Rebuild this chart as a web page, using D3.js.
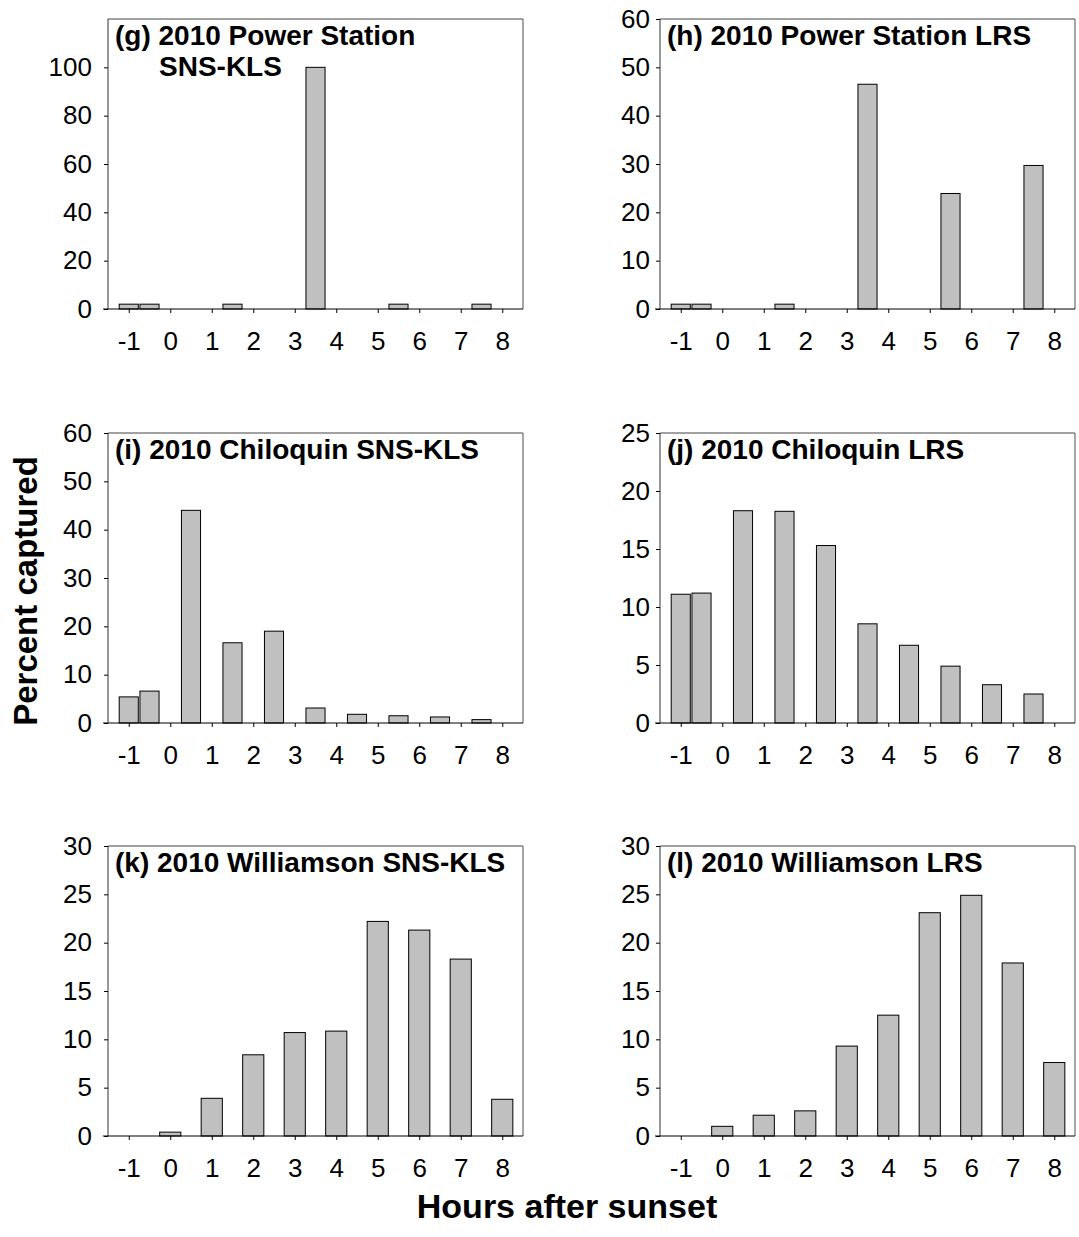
<!DOCTYPE html>
<html>
<head>
<meta charset="utf-8">
<script src="https://cdn.jsdelivr.net/npm/d3@7"></script>
<style>
  body { margin: 0; background: #fff; }
  svg { font-family: Arial, "Liberation Sans", sans-serif; }
</style>
</head>
<body>
<div id="chart"></div>
<script>
// hours after sunset, bar positions
var hoursA = [-1, -0.5, 0.5, 1.5, 2.5, 3.5, 4.5, 5.5, 6.5, 7.5];
var hoursB = [-1, 0, 1, 2, 3, 4, 5, 6, 7, 8];
var xTicks = [-1, 0, 1, 2, 3, 4, 5, 6, 7, 8];

// percent captured per panel
var psSns = [2, 2, 0, 2, 0, 100, 0, 2, 0, 2];
var psLrs = [1, 1, 0, 1, 0, 46.5, 0, 23.9, 0, 29.7];
var chSns = [5.4, 6.6, 44.0, 16.6, 19.0, 3.1, 1.8, 1.5, 1.25, 0.7];
var chLrs = [11.1, 11.2, 18.3, 18.25, 15.3, 8.55, 6.7, 4.9, 3.3, 2.5];
var wiSns = [0, 0.4, 3.9, 8.4, 10.7, 10.85, 22.2, 21.3, 18.3, 3.8];
var wiLrs = [0, 1.0, 2.15, 2.6, 9.3, 12.5, 23.1, 24.9, 17.9, 7.6];

var titles = [
  ["(g) 2010 Power Station", "SNS-KLS"],
  ["(h) 2010 Power Station LRS"],
  ["(i) 2010 Chiloquin SNS-KLS"],
  ["(j) 2010 Chiloquin LRS"],
  ["(k) 2010 Williamson SNS-KLS"],
  ["(l) 2010 Williamson LRS"]
];
var yMax = [120, 60, 60, 25, 30, 30];
var yTicks = [
  [0, 20, 40, 60, 80, 100],
  [0, 10, 20, 30, 40, 50, 60],
  [0, 10, 20, 30, 40, 50, 60],
  [0, 5, 10, 15, 20, 25],
  [0, 5, 10, 15, 20, 25, 30],
  [0, 5, 10, 15, 20, 25, 30]
];

var panels = [
  {hours: hoursA, vals: psSns, bw: 0.46},
  {hours: hoursA, vals: psLrs, bw: 0.46},
  {hours: hoursA, vals: chSns, bw: 0.46},
  {hours: hoursA, vals: chLrs, bw: 0.46},
  {hours: hoursB, vals: wiSns, bw: 0.51},
  {hours: hoursB, vals: wiLrs, bw: 0.51}
];

var svg = d3.select("#chart")
  .append("svg")
    .attr("width", 1079)
    .attr("height", 1237);

var colX = [108, 660];
var rowY = [19, 433, 846];
var pw = 415;
var ph = 290;

panels.forEach(function(p, i){
  var left = colX[i % 2];
  var top = rowY[Math.floor(i / 2)];

  var g = svg.append("g")
    .attr("transform", "translate(" + left + "," + top + ")");

  var x = d3.scaleLinear().domain([-1.5, 8.5]).range([0, pw]);
  var y = d3.scaleLinear().domain([0, yMax[i]]).range([ph, 0]);

  // frame top / right
  g.append("line").attr("x1", 0).attr("x2", pw).attr("y1", 0).attr("y2", 0)
    .attr("stroke", "#444").attr("stroke-width", 1);
  g.append("line").attr("x1", pw).attr("x2", pw).attr("y1", 0).attr("y2", ph)
    .attr("stroke", "#888").attr("stroke-width", 1.5);

  var rows = p.hours.map(function(h, j){ return {h: h, v: p.vals[j]}; })
    .filter(function(d){ return d.v > 0; });

  g.selectAll("rect.bar").data(rows)
    .enter().append("rect")
      .attr("class", "bar")
      .attr("x", function(d){ return x(d.h - p.bw / 2); })
      .attr("width", function(d){ return x(p.bw) - x(0); })
      .attr("y", function(d){ return y(d.v); })
      .attr("height", function(d){ return ph - y(d.v); })
      .attr("fill", "#c0c0c0")
      .attr("stroke", "#000")
      .attr("stroke-width", 1);

  var yAxis = d3.axisLeft(y).tickValues(yTicks[i]).tickSize(4)
    .tickPadding(i % 2 ? 6 : 12).tickFormat(function(d){ return String(d); });
  var ya = g.append("g").call(yAxis);
  ya.select(".domain").attr("d", "M0," + ph + "V0").attr("stroke", "#333");

  var xAxis = d3.axisBottom(x).tickValues(xTicks).tickSize(4).tickPadding(19)
    .tickFormat(function(d){ return String(d); });
  var xa = g.append("g").attr("transform", "translate(0," + ph + ")").call(xAxis);
  xa.select(".domain").attr("d", "M-5,0H" + pw).attr("stroke", "#000");

  svg.selectAll(".tick text")
    .attr("font-size", 26)
    .attr("font-family", "Arial, 'Liberation Sans', sans-serif")
    .attr("fill", "#000");

  // panel title
  g.append("text")
    .attr("x", 7)
    .attr("y", 26)
    .attr("font-size", 28)
    .attr("font-weight", "bold")
    .text(titles[i][0]);
  if (titles[i].length > 1) {
    g.append("text")
      .attr("x", 51)
      .attr("y", 57)
      .attr("font-size", 28)
      .attr("font-weight", "bold")
      .text(titles[i][1]);
  }
});

svg.append("text")
  .attr("transform", "translate(37,591) rotate(-90)")
  .attr("text-anchor", "middle")
  .attr("font-size", 33)
  .attr("font-weight", "bold")
  .text("Percent captured");

svg.append("text")
  .attr("x", 567)
  .attr("y", 1218)
  .attr("text-anchor", "middle")
  .attr("font-size", 34)
  .attr("font-weight", "bold")
  .text("Hours after sunset");
</script>
</body>
</html>
